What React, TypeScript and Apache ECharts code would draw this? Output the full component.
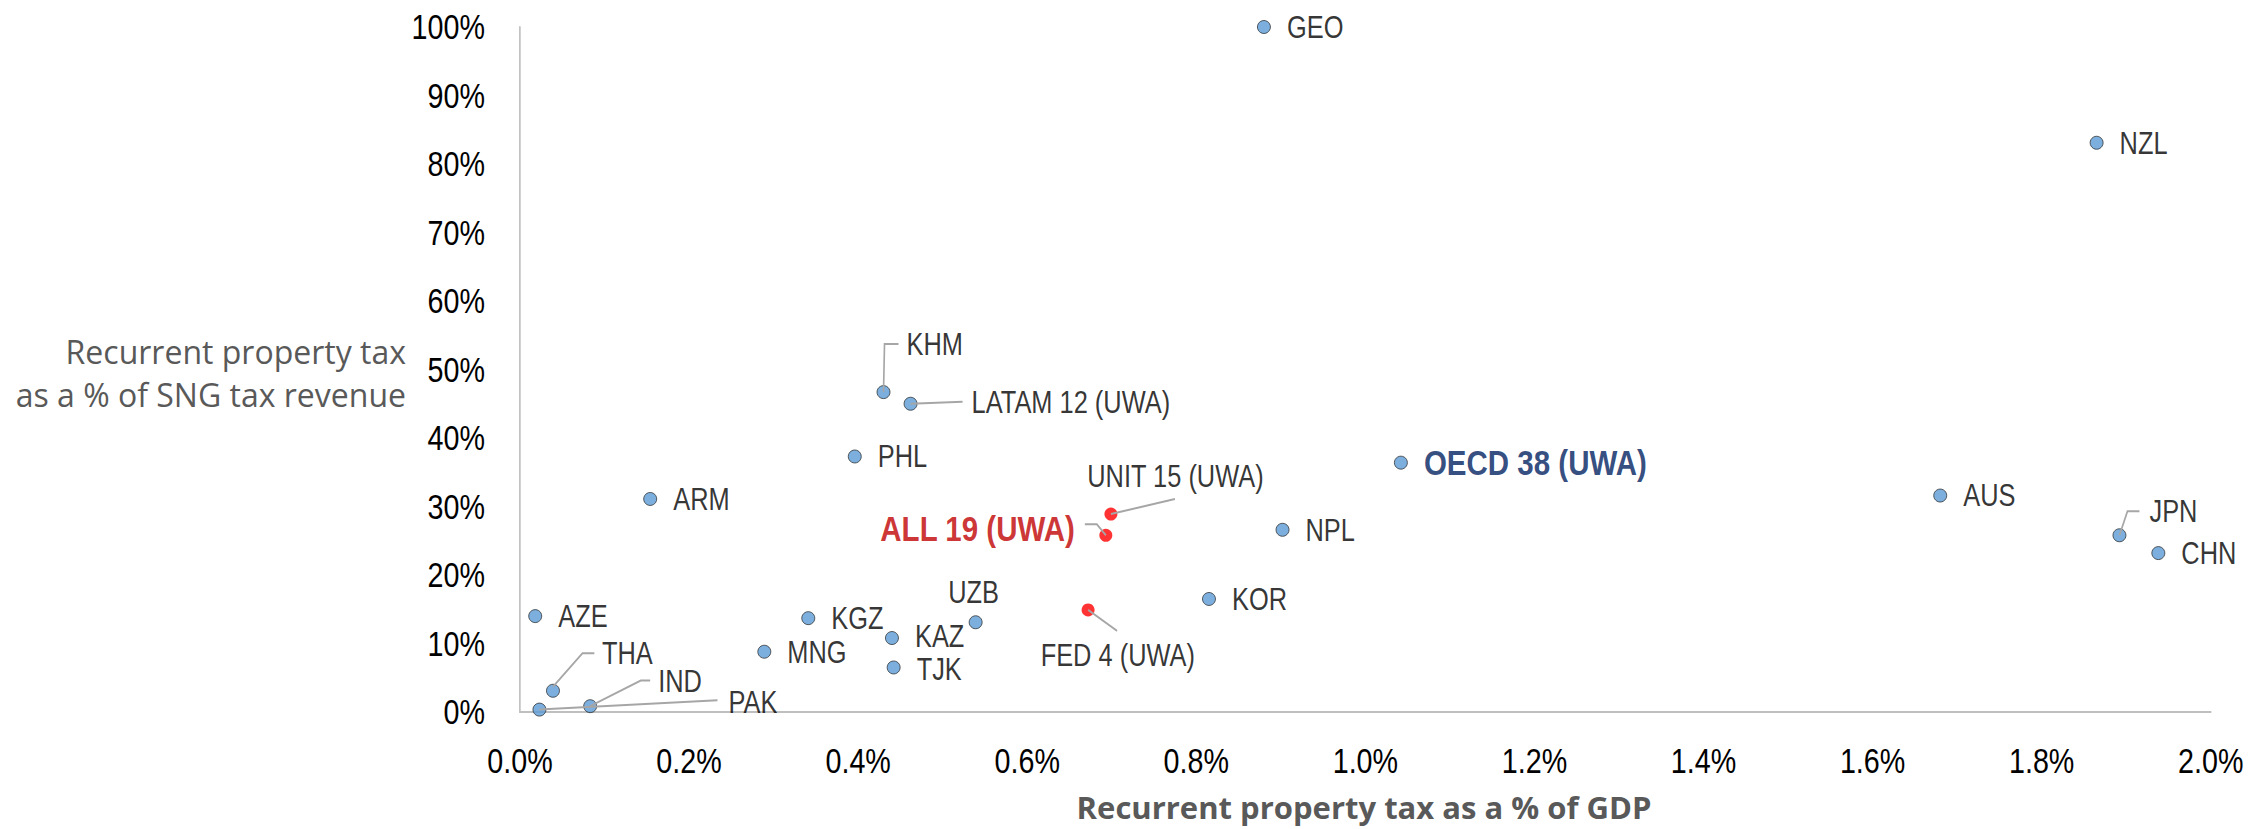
import React, { useEffect, useRef } from "react";
import * as echarts from "echarts";

// ---- Data ----
const countryNames = [
  "GEO", "NZL", "KHM", "LATAM 12 (UWA)", "PHL", "OECD 38 (UWA)", "AUS", "ARM", "NPL", "JPN", "CHN",
  "KOR", "AZE", "KGZ", "UZB", "KAZ", "MNG", "TJK", "THA", "IND", "PAK",
];
// Recurrent property tax as a % of GDP
const countryGdp = [
  0.88, 1.865, 0.43, 0.462, 0.396, 1.042, 1.68, 0.154, 0.902, 1.892, 1.938,
  0.815, 0.018, 0.341, 0.539, 0.44, 0.289, 0.442, 0.039, 0.083, 0.023,
];
// Recurrent property tax as a % of SNG tax revenue
const countrySng = [
  100, 83.1, 46.7, 45.0, 37.3, 36.4, 31.6, 31.1, 26.6, 25.8, 23.2,
  16.5, 14.0, 13.7, 13.1, 10.8, 8.8, 6.5, 3.1, 0.85, 0.35,
];

const aggregateNames = ["UNIT 15 (UWA)", "ALL 19 (UWA)", "FED 4 (UWA)"];
const aggregateGdp = [0.699, 0.693, 0.672];
const aggregateSng = [28.9, 25.8, 14.9];

const xMin = 0;
const xMax = 2.0;
const xStep = 0.2;
const yMin = 0;
const yMax = 100;
const yStep = 10;

const yTitle = "Recurrent property tax\nas a % of SNG tax revenue";
const xTitle = "Recurrent property tax as a % of GDP";

// ---- Layout ----
// The chart is drawn in a horizontally stretched space and squeezed back with a
// CSS scaleX, so that Liberation Sans renders like a narrow face.
const S = 0.82;
const W = 2261;
const H = 829;
const hx = (v: number) => v / S; // page pixels -> chart pixels (horizontal)

type Placement = {
  dx: number;
  dy: number;
  align: "left" | "center" | "right";
  leader?: number[][];
};
const defaultPlacement: Placement = { dx: 23, dy: 0, align: "left" };
const placements: Record<string, Placement> = {
  KHM: { dx: 23, dy: -48, align: "left", leader: [[0, 0], [1, -48], [15, -48]] },
  "LATAM 12 (UWA)": { dx: 61, dy: -2, align: "left", leader: [[0, 0], [52, -2]] },
  "UNIT 15 (UWA)": { dx: 64.5, dy: -37.5, align: "center", leader: [[0, 0], [64, -15]] },
  "ALL 19 (UWA)": { dx: -31, dy: -7, align: "right", leader: [[0, 0], [-9, -11], [-21, -11]] },
  "FED 4 (UWA)": { dx: 29.7, dy: 45, align: "center", leader: [[0, 0], [29, 21]] },
  UZB: { dx: -2, dy: -30.5, align: "center" },
  KAZ: { dx: 23, dy: -2, align: "left" },
  TJK: { dx: 23, dy: 2, align: "left" },
  JPN: { dx: 30, dy: -24.5, align: "left", leader: [[0, 0], [8, -24], [20, -24]] },
  THA: { dx: 49, dy: -37.6, align: "left", leader: [[0, -4], [29.5, -37.6], [41.4, -37.6]] },
  IND: { dx: 68, dy: -25.6, align: "left", leader: [[0, 0], [50.6, -25.6], [60, -25.6]] },
  PAK: { dx: 189, dy: -8, align: "left", leader: [[0, 0], [178, -9.4]] },
};

const NARROW = "'Liberation Sans', Arial, sans-serif";
const SANS = "'Open Sans', 'Noto Sans', sans-serif";

const labelStyle = (name: string) => {
  const p = placements[name] || defaultPlacement;
  const base: any = {
    show: true,
    position: "inside",
    align: p.align,
    verticalAlign: "middle",
    offset: [hx(p.dx), p.dy],
    formatter: name,
    fontFamily: NARROW,
    fontSize: 31,
    lineHeight: 28,
    color: "#000000",
  };
  if (name === "ALL 19 (UWA)") {
    base.color = "#C00000";
    base.fontWeight = "bold";
    base.fontSize = 36;
    base.lineHeight = 34;
  }
  if (name === "OECD 38 (UWA)") {
    base.color = "#002060";
    base.fontWeight = "bold";
    base.fontSize = 36;
    base.lineHeight = 34;
  }
  return base;
};

export default function App() {
  const ref = useRef<HTMLDivElement>(null);

  useEffect(() => {
    if (!ref.current) return;
    const chart = echarts.init(ref.current, undefined, { renderer: "svg" });

    const countryData = countryNames.map((n, i) => ({
      name: n,
      value: [countryGdp[i], countrySng[i]],
      label: labelStyle(n),
    }));
    const aggregateData = aggregateNames.map((n, i) => ({
      name: n,
      value: [aggregateGdp[i], aggregateSng[i]],
      label: labelStyle(n),
    }));

    const allNames = [...countryNames, ...aggregateNames];
    const allX = [...countryGdp, ...aggregateGdp];
    const allY = [...countrySng, ...aggregateSng];
    const leaderData: any[] = [];
    const leaderPts: number[][][] = [];
    allNames.forEach((n, i) => {
      const p = placements[n];
      if (p && p.leader) {
        leaderData.push({ name: n, value: [allX[i], allY[i]] });
        leaderPts.push(p.leader);
      }
    });

    const option: any = {
      animation: false,
      backgroundColor: "#ffffff",
      grid: { left: hx(520), right: hx(50), top: 27, bottom: 117 },
      xAxis: {
        type: "value",
        min: xMin,
        max: xMax,
        interval: xStep,
        axisLine: { show: true, lineStyle: { color: "#BFBFBF", width: 2 } },
        axisTick: { show: false },
        splitLine: { show: false },
        axisLabel: {
          formatter: (v: number) => v.toFixed(1) + "%",
          fontFamily: NARROW,
          fontSize: 35,
          color: "#000000",
          margin: 31,
        },
      },
      yAxis: {
        type: "value",
        min: yMin,
        max: yMax,
        interval: yStep,
        axisLine: { show: true, lineStyle: { color: "#BFBFBF", width: 2 } },
        axisTick: { show: false },
        splitLine: { show: false },
        axisLabel: {
          formatter: (v: number) => v + "%",
          fontFamily: NARROW,
          fontSize: 35,
          color: "#000000",
          margin: hx(35),
        },
      },
      graphic: [
        {
          type: "text",
          x: hx(406),
          y: 373,
          scaleX: 1 / S,
          style: {
            text: yTitle,
            align: "right",
            verticalAlign: "middle",
            fontFamily: SANS,
            fontSize: 32,
            lineHeight: 43,
            fill: "#595959",
          },
        },
        {
          type: "text",
          x: hx(1364),
          y: 807,
          scaleX: 1 / S,
          style: {
            text: xTitle,
            align: "center",
            verticalAlign: "middle",
            fontFamily: SANS,
            fontSize: 31,
            lineHeight: 31,
            fontWeight: "bold",
            fill: "#595959",
          },
        },
      ],
      series: [
        {
          type: "scatter",
          name: "Countries",
          symbol: "circle",
          symbolSize: [hx(13), 13],
          itemStyle: { color: "#5B9BD5", borderColor: "#262626", borderWidth: 1 },
          data: countryData,
          z: 3,
        },
        {
          type: "scatter",
          name: "Aggregates",
          symbol: "circle",
          symbolSize: [hx(13), 13],
          itemStyle: { color: "#FF0000" },
          data: aggregateData,
          z: 3,
        },
        {
          type: "custom",
          name: "Leaders",
          z: 4,
          silent: true,
          data: leaderData,
          renderItem: (params: any, api: any) => {
            const c = api.coord([api.value(0), api.value(1)]);
            const pts = leaderPts[params.dataIndex].map((d) => [c[0] + hx(d[0]), c[1] + d[1]]);
            return {
              type: "polyline",
              shape: { points: pts },
              style: { stroke: "#A6A6A6", lineWidth: 2, fill: null },
            };
          },
        },
      ],
    };

    chart.setOption(option);
    return () => chart.dispose();
  }, []);

  return (
    <div
      ref={ref}
      style={{
        position: "fixed",
        left: 0,
        top: 0,
        width: W / S,
        height: H,
        background: "#fff",
        transform: `scaleX(${S})`,
        transformOrigin: "0 0",
      }}
    />
  );
}
